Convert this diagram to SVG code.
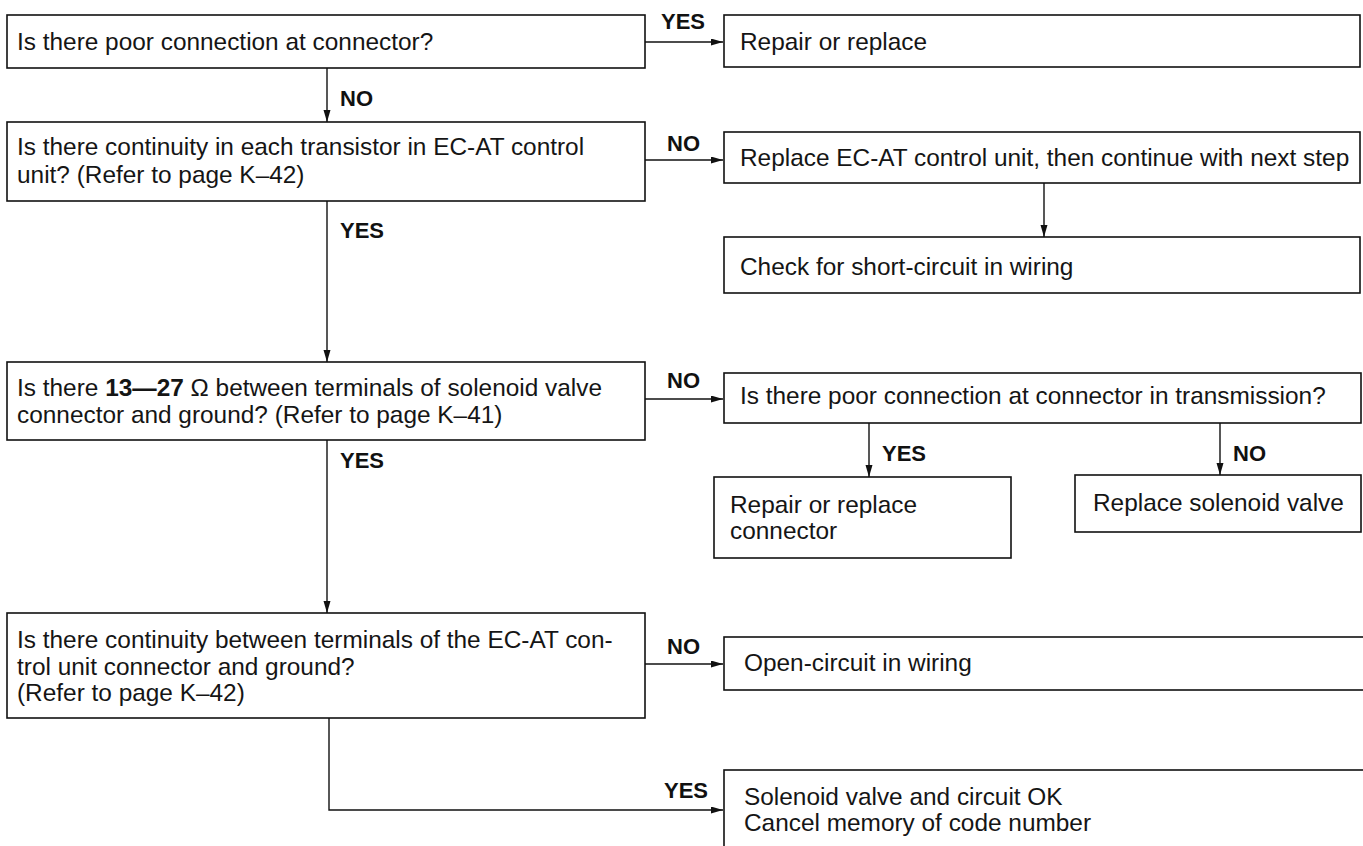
<svg xmlns="http://www.w3.org/2000/svg" width="1363" height="846" viewBox="0 0 1363 846">
<defs>
<style>
.box{fill:#fff;stroke:#111;stroke-width:1.6}
.t{font-family:"Liberation Sans",Arial,sans-serif;font-size:24.4px;fill:#151515}
.lb{font-family:"Liberation Sans",Arial,sans-serif;font-size:22px;font-weight:bold;fill:#111}
.c{fill:none;stroke:#111;stroke-width:1.4}
</style>
<marker id="ah" markerWidth="13" markerHeight="8" refX="12" refY="3.5" orient="auto" markerUnits="userSpaceOnUse">
<path d="M0,0 L12,3.5 L0,7 z" fill="#111"/>
</marker>
</defs>
<rect width="1363" height="846" fill="#fff"/>
<g id="connectors">
<line class="c" x1="645" y1="42" x2="723" y2="42" marker-end="url(#ah)"/>
<text class="lb" x="661" y="29">YES</text>
<line class="c" x1="327" y1="68" x2="327" y2="122" marker-end="url(#ah)"/>
<text class="lb" x="340" y="106">NO</text>
<line class="c" x1="645" y1="160" x2="723" y2="160" marker-end="url(#ah)"/>
<text class="lb" x="667" y="151">NO</text>
<line class="c" x1="1044" y1="183" x2="1044" y2="237" marker-end="url(#ah)"/>
<line class="c" x1="327" y1="201" x2="327" y2="362" marker-end="url(#ah)"/>
<text class="lb" x="340" y="238">YES</text>
<line class="c" x1="645" y1="399" x2="723" y2="399" marker-end="url(#ah)"/>
<text class="lb" x="667" y="388">NO</text>
<line class="c" x1="869" y1="423" x2="869" y2="477" marker-end="url(#ah)"/>
<text class="lb" x="882" y="461">YES</text>
<line class="c" x1="1220" y1="423" x2="1220" y2="475" marker-end="url(#ah)"/>
<text class="lb" x="1233" y="461">NO</text>
<line class="c" x1="327" y1="440" x2="327" y2="613" marker-end="url(#ah)"/>
<text class="lb" x="340" y="468">YES</text>
<line class="c" x1="645" y1="664" x2="723" y2="664" marker-end="url(#ah)"/>
<text class="lb" x="667" y="654">NO</text>
<polyline class="c" points="329,718 329,810 723,810" marker-end="url(#ah)"/>
<text class="lb" x="664" y="798">YES</text>
</g>
<g id="q1">
<rect class="box" x="7" y="15" width="638" height="53"/>
<text class="t" x="17" y="50">Is there poor connection at connector?</text>
</g>
<g id="a1">
<rect class="box" x="724" y="15" width="636" height="52"/>
<text class="t" x="740" y="50">Repair or replace</text>
</g>
<g id="q2">
<rect class="box" x="7" y="122" width="638" height="79"/>
<text class="t" x="17" y="155">Is there continuity in each transistor in EC-AT control</text>
<text class="t" x="17" y="183">unit? (Refer to page K–42)</text>
</g>
<g id="a2">
<rect class="box" x="724" y="132" width="636" height="51"/>
<text class="t" x="740" y="166">Replace EC-AT control unit, then continue with next step</text>
</g>
<g id="a3">
<rect class="box" x="724" y="237" width="636" height="56"/>
<text class="t" x="740" y="275">Check for short-circuit in wiring</text>
</g>
<g id="q3">
<rect class="box" x="7" y="362" width="638" height="78"/>
<text class="t" x="17" y="396">Is there <tspan font-weight="bold">13—27</tspan> Ω between terminals of solenoid valve</text>
<text class="t" x="17" y="423">connector and ground? (Refer to page K–41)</text>
</g>
<g id="q4">
<rect class="box" x="724" y="373" width="637" height="50"/>
<text class="t" x="740" y="404">Is there poor connection at connector in transmission?</text>
</g>
<g id="a4">
<rect class="box" x="714" y="477" width="297" height="81"/>
<text class="t" x="730" y="513">Repair or replace</text>
<text class="t" x="730" y="539">connector</text>
</g>
<g id="a5">
<rect class="box" x="1075" y="475" width="286" height="57"/>
<text class="t" x="1093" y="511">Replace solenoid valve</text>
</g>
<g id="q5">
<rect class="box" x="7" y="613" width="638" height="105"/>
<text class="t" x="17" y="648">Is there continuity between terminals of the EC-AT con-</text>
<text class="t" x="17" y="675">trol unit connector and ground?</text>
<text class="t" x="17" y="701">(Refer to page K–42)</text>
</g>
<g id="a6">
<rect class="box" x="724" y="637" width="660" height="53"/>
<text class="t" x="744" y="671">Open-circuit in wiring</text>
</g>
<g id="a7">
<rect class="box" x="724" y="770" width="660" height="100"/>
<text class="t" x="744" y="805">Solenoid valve and circuit OK</text>
<text class="t" x="744" y="831">Cancel memory of code number</text>
</g>
</svg>
